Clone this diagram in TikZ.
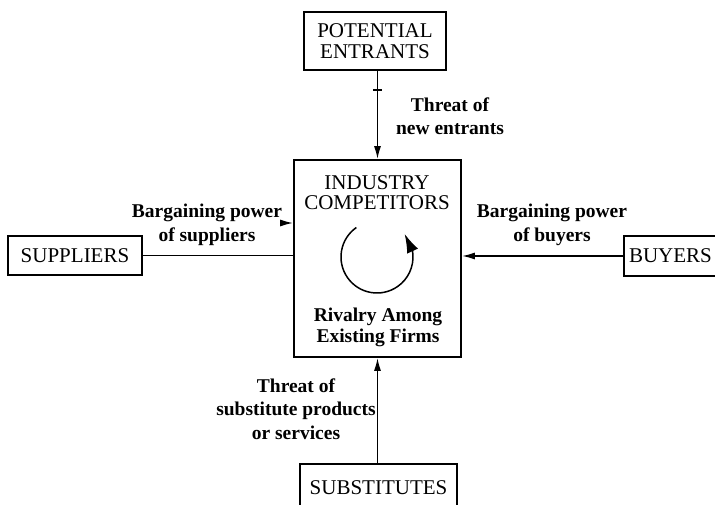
\documentclass[tikz,border=0pt]{standalone}
\usepackage{fontspec}
\setmainfont{Liberation Serif}
\usetikzlibrary{arrows.meta,bending}
\begin{document}
\begin{tikzpicture}[x=1pt,y=1pt,
  box/.style={draw,line width=1.7pt,inner sep=0pt,align=center,
    font=\fontsize{21}{21}\selectfont},
  lbl/.style={align=center,font=\fontsize{19.5}{23.5}\selectfont\bfseries},
  con/.style={line width=1.6pt},
  arr/.style={con,-{Latex[length=13pt,width=7pt]}}]
\useasboundingbox (0,0) rectangle (715,505);
\node[box,minimum width=142,minimum height=58] (pe) at (375,464) {POTENTIAL\\ENTRANTS};
\node[box,minimum width=167,minimum height=197] (ind) at (377.5,246.5) {};
\node[box,minimum width=134,minimum height=39] (sup) at (75,249.5) {SUPPLIERS};
\node[box,minimum width=96,minimum height=40,text width=96,align=left] (buy) at (672,249) {\hspace{5pt}BUYERS};
\node[box,minimum width=157,minimum height=48] (sub) at (378.5,17) {SUBSTITUTES};
% central texts
\node[align=center,font=\fontsize{21}{20}\selectfont] (indt) at (377,312) {INDUSTRY\\COMPETITORS};
\node[lbl,font=\fontsize{19.5}{21}\selectfont\bfseries] (riv) at (378,178) {Rivalry Among\\Existing Firms};
\coordinate (c) at (377,248);
\draw[con,line width=1.5pt,-{Latex[length=19pt,width=12pt,flex]}] ([shift={(125:36pt)}]c) arc[start angle=125,end angle=400,radius=36pt];
% connectors
\draw[arr] (ind.north |- pe.south) -- (ind.north);
\coordinate (tk) at (377.5,415);
\draw[con] ([xshift=-4.5pt]tk) -- ([xshift=4.5pt]tk);
\draw[con] (sup.east) -- (sup.east -| ind.west);
\coordinate (sa) at (280,282);
\draw[arr] (sa) -- (sa -| ind.west);
\draw[arr] (buy.west) -- (buy.west -| ind.east);
\draw[arr] (ind.south |- sub.north) -- (ind.south);
% labels
\node[lbl] (l1) at (450,389) {Threat of\\new entrants};
\node[lbl] (l2) at (207,280) {Bargaining power\\of suppliers};
\node[lbl] (l3) at (552,280) {Bargaining power\\of buyers};
\node[lbl] (l4) at (296,96) {Threat of\\substitute products\\or services};
\end{tikzpicture}
\end{document}
